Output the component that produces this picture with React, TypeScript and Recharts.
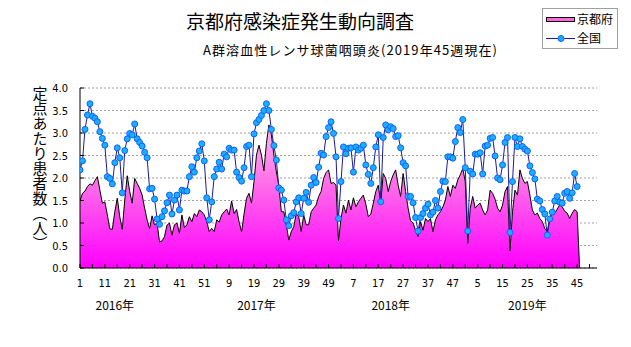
import React from 'react';
import { ComposedChart, Area, Line, XAxis, YAxis, CartesianGrid, Customized } from 'recharts';

// 京都府 (weekly, 2016 w1 .. 2019 w46)
const kyoto: number[] = [
  1.5, 1.66, 1.71, 1.81, 1.87, 1.84, 1.94, 2.03, 1.73, 1.44,
  1.47, 1.18, 0.87, 0.86, 1.25, 1.55, 1.14, 0.86, 1.51, 2.05,
  1.7, 1.44, 1.99, 1.88, 1.77, 1.62, 1.33, 1.07, 0.87, 1.16,
  0.96, 1.0, 0.58, 0.6, 0.7, 0.95, 1.0, 0.73, 0.96, 1.0,
  0.77, 1.18, 0.9, 0.96, 1.14, 1.03, 1.21, 1.14, 1.29, 1.25,
  1.18, 1.03, 0.81, 0.88, 0.81, 1.07, 1.02, 1.18, 1.25, 1.31,
  1.18, 1.49, 1.21, 1.3, 1.03, 0.8, 1.2, 1.55, 1.66, 1.44,
  1.92, 2.51, 2.73, 2.51, 2.16, 2.77, 3.18, 2.96, 2.51, 2.14,
  1.84, 1.25, 1.25, 0.96, 0.62, 0.81, 0.92, 1.21, 1.14, 0.81,
  1.18, 0.96, 0.96, 1.25, 1.33, 1.4, 1.59, 1.7, 1.99, 2.12,
  2.18, 1.88, 1.9, 1.84, 0.6, 1.1, 1.4, 1.22, 1.51, 1.29,
  1.56, 1.36, 1.47, 1.55, 1.62, 1.42, 1.14, 1.2, 1.44, 1.7,
  1.84, 1.44, 2.1, 1.99, 1.7, 1.92, 2.07, 2.18, 1.84, 1.59,
  2.1, 1.7, 1.33, 1.05, 1.0, 0.84, 0.7, 1.03, 0.84, 1.1,
  1.03, 1.1, 0.81, 1.07, 1.18, 1.25, 1.36, 1.51, 1.81, 1.59,
  1.84, 1.77, 1.96, 2.07, 2.21, 1.92, 0.55, 1.33, 1.59, 1.33,
  1.4, 1.44, 1.29, 1.18, 1.29, 1.73, 1.66, 1.53, 1.33, 1.25,
  1.4, 1.7, 1.81, 0.38, 1.25, 1.73, 1.62, 2.18, 1.99, 1.88,
  1.92, 1.62, 1.29, 1.18, 1.22, 1.1, 1.03, 0.88, 0.81, 1.1,
  1.25, 1.22, 1.31, 1.4, 1.36, 1.26, 1.22, 1.1, 1.22, 1.3,
  1.25, 0,
];

// 全国 (weekly, 2016 w1 .. 2019 w45)
const national: number[] = [
  2.18, 2.38, 3.08, 3.4, 3.65, 3.37, 3.33, 3.25, 3.03, 2.88,
  2.73, 2.03, 1.99, 1.87, 2.34, 2.67, 2.45, 1.67, 2.61, 2.87,
  2.99, 2.96, 3.2, 2.87, 2.79, 2.71, 2.57, 2.45, 1.76, 1.77,
  1.53, 1.09, 0.97, 1.14, 1.27, 1.45, 1.62, 1.2, 1.51, 1.62,
  1.29, 1.73, 1.71, 1.71, 2.03, 2.25, 2.13, 2.45, 2.6, 2.76,
  2.38, 1.56, 1.07, 1.47, 2.03, 2.2, 2.35, 2.2, 2.53, 2.47,
  2.66, 2.62, 2.62, 2.13, 2.01, 1.93, 2.23, 2.7, 2.73, 2.03,
  2.98, 3.23, 3.3, 3.39, 3.5, 3.65, 3.5, 3.08, 2.72, 2.4,
  1.78, 1.73, 1.51, 1.07, 0.94, 1.16, 1.23, 1.47, 1.56, 1.21,
  1.55, 1.68, 1.46, 1.84, 2.01, 1.9, 2.24, 2.55, 2.51, 2.92,
  3.12, 3.25, 2.99, 2.47, 1.1, 1.92, 2.69, 2.54, 2.66, 2.67,
  2.13, 2.69, 2.62, 2.66, 2.73, 2.29, 2.08, 1.88, 2.23, 2.69,
  2.96, 1.47, 2.9, 3.18, 3.07, 3.14, 3.1, 2.92, 2.94, 2.67,
  2.34, 2.27, 1.59, 1.59, 1.45, 1.12, 0.82, 1.12, 1.21, 1.33,
  1.42, 1.18, 1.24, 1.5, 1.33, 1.7, 1.93, 1.92, 2.47, 2.47,
  2.44, 2.81, 3.12, 3.01, 3.3, 2.23, 0.82, 2.15, 2.09, 2.53,
  2.53, 2.56, 2.09, 2.71, 2.73, 2.88, 2.9, 2.49, 2.0, 1.96,
  2.29, 2.79, 2.9, 0.79, 1.92, 2.9, 2.7, 2.87, 2.7, 2.64,
  2.6, 2.27, 2.12, 1.98, 1.53, 1.49, 1.3, 1.2, 0.73, 1.09,
  1.24, 1.49, 1.59, 1.46, 1.44, 1.66, 1.7, 1.55, 1.67, 2.1,
  1.81,
];

const xTickLabels = ['1', '11', '21', '31', '41', '51', '9', '19', '29', '39', '49', '7', '17', '27', '37', '47', '5', '15', '25', '35', '45'];
const yTicks = [0, 0.5, 1, 1.5, 2, 2.5, 3, 3.5, 4];
const yearLabels = ['2016年', '2017年', '2018年', '2019年'];
const yearLabelAt = [14, 71, 125, 180];
const seriesNames = ['京都府', '全国'];
const titleText = '京都府感染症発生動向調査';
const subtitleText = 'A群溶血性レンサ球菌咽頭炎(2019年45週現在)';
const yTitleText = '定点あたり患者数（人）';

const xMinorTicks = Array.from({ length: 42 }, (_, k) => k * 5);

const data = kyoto.map((v, i) => ({
  idx: i,
  kyoto: v,
  national: i < national.length ? national[i] : null,
}));

const jpFont = "'Noto Sans CJK JP', 'Noto Sans', sans-serif";
const numFont = "'Liberation Sans Narrow', 'DejaVu Sans Condensed', 'Noto Sans CJK JP', sans-serif";

const XTick = (props: any) => {
  const { x, y, payload } = props;
  const v = payload.value as number;
  const label = v % 10 === 0 ? xTickLabels[v / 10] : null;
  return (
    <g>
      <line x1={x} x2={x} y1={y} y2={y - 4} stroke="#000" strokeWidth={1} />
      {label != null && (
        <text x={x} y={y + 19} textAnchor="middle" fontSize={11} fontFamily={numFont} fill="#000">
          {label}
        </text>
      )}
    </g>
  );
};

const YearTick = (props: any) => {
  const { x, y, payload, index } = props;
  return (
    <text x={x} y={y + 12} textAnchor="middle" fontSize={12} fontFamily={jpFont} fill="#000">
      {yearLabels[index] ?? String(payload.value)}
    </text>
  );
};

const YTick = (props: any) => {
  const { x, y, payload } = props;
  return (
    <g>
      <line x1={x} x2={x + 4} y1={y} y2={y} stroke="#000" strokeWidth={1} />
      <text x={x - 12} y={y + 4} textAnchor="end" fontSize={11} fontFamily={numFont} fill="#000">
        {(payload.value as number).toFixed(1)}
      </text>
    </g>
  );
};

const Decor = () => (
  <g>
    <text x={300} y={29} textAnchor="middle" fontSize={19} fontFamily={jpFont} fill="#000">
      {titleText}
    </text>
    <text x={203} y={55} fontSize={13} fontFamily={jpFont} fill="#000" textLength={294} lengthAdjust="spacing">
      {subtitleText}
    </text>
    <text x={40} y={86} fontSize={15} fontFamily={jpFont} fill="#000" style={{ writingMode: 'vertical-rl' } as any}>
      {yTitleText}
    </text>
    <rect x={542.5} y={8.5} width={75} height={40} fill="#fff" stroke="#a0a0a0" strokeWidth={1} />
    <rect x={546.5} y={17.5} width={28} height={4} fill="#ff66dd" stroke="#000" strokeWidth={1} />
    <text x={577} y={24} fontSize={12} fontFamily={jpFont} fill="#000">{seriesNames[0]}</text>
    <line x1={546} x2={575} y1={38.5} y2={38.5} stroke="#1c1c9c" strokeWidth={1} />
    <circle cx={561} cy={38.5} r={3} fill="#1ab0ff" stroke="#1060ff" strokeWidth={1} />
    <text x={577} y={43} fontSize={12} fontFamily={jpFont} fill="#000">{seriesNames[1]}</text>
  </g>
);

export default function App() {
  return (
    <div style={{ position: 'absolute', left: 0, top: 0, width: 631, height: 347, background: '#fff' }}>
      <ComposedChart
        width={631}
        height={347}
        data={data}
        margin={{ top: 88, right: 34, left: 8, bottom: 29 }}
      >
        <defs>
          <linearGradient id="pinkGrad" x1="0" y1="0" x2="0" y2="1">
            <stop offset="0%" stopColor="#ffb8f0" />
            <stop offset="40%" stopColor="#ff70e8" />
            <stop offset="100%" stopColor="#ff00ff" />
          </linearGradient>
        </defs>
        <CartesianGrid horizontal vertical={false} stroke="#a0a0a0" strokeDasharray="2 2" />
        <XAxis
          dataKey="idx"
          type="number"
          domain={[0, 208]}
          ticks={xMinorTicks}
          interval={0}
          tickSize={0}
          tickMargin={0}
          tickLine={false}
          axisLine={{ stroke: '#000' }}
          tick={<XTick />}
          height={30}
          allowDataOverflow
        />
        <XAxis
          xAxisId="year"
          dataKey="idx"
          type="number"
          domain={[0, 208]}
          ticks={yearLabelAt}
          interval={0}
          tickSize={0}
          tickMargin={0}
          tickLine={false}
          axisLine={false}
          tick={<YearTick />}
          height={20}
          allowDataOverflow
        />
        <YAxis
          type="number"
          domain={[0, 4]}
          ticks={yTicks}
          interval={0}
          width={72}
          tickSize={0}
          tickMargin={0}
          tickLine={false}
          axisLine={{ stroke: '#000' }}
          tick={<YTick />}
        />
        <Area
          type="linear"
          dataKey="kyoto"
          name={seriesNames[0]}
          stroke="#000"
          strokeWidth={1}
          fill="url(#pinkGrad)"
          fillOpacity={1}
          dot={false}
          activeDot={false}
          isAnimationActive={false}
        />
        <Line
          type="linear"
          dataKey="national"
          name={seriesNames[1]}
          stroke="#1c1c9c"
          strokeWidth={1}
          dot={{ r: 3, fill: '#1ab0ff', stroke: '#1060ff', strokeWidth: 1 }}
          activeDot={false}
          isAnimationActive={false}
        />
        <Customized component={Decor} />
      </ComposedChart>
    </div>
  );
}
